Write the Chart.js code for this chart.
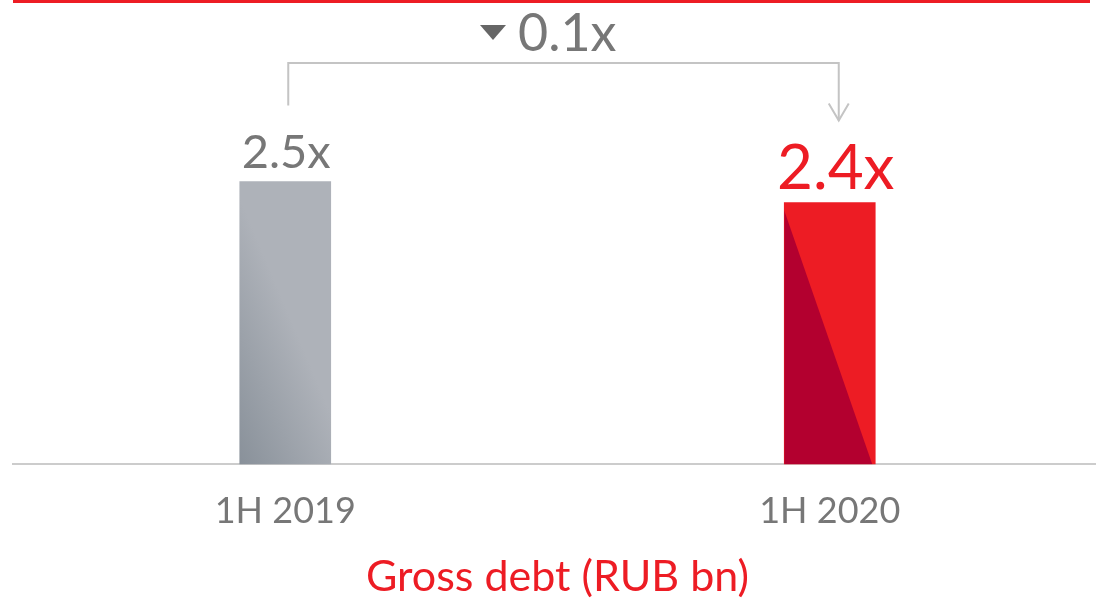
<!doctype html>
<html lang="en">
<head>
  <meta charset="utf-8">
  <title>Gross debt</title>
  <style>
    * { margin: 0; padding: 0; }
    body { width: 1096px; height: 601px; overflow: hidden; background: #fff; }
    .chartBox { width: 1102px; height: 601px; }
  </style>
</head>
<body>
  <div class="chartBox"><canvas id="myChart"></canvas></div>
  <script src="https://cdn.jsdelivr.net/npm/chart.js/dist/chart.umd.min.js"></script>
  <script>
    // data
    const periods = ['1H 2019', '1H 2020'];
    const leverage = [2.5, 2.4];
    const valueLabels = ['2.5x', '2.4x'];
    const changeLabel = '0.1x';
    const axisTitle = 'Gross debt (RUB bn)';

    const RED = '#ED1C24';
    const DARK_RED = '#B3002F';
    const GREY_TEXT = '#777777';
    const FONT = 'Lato, "Open Sans", sans-serif';

    function barColor(context) {
      const chart = context.chart;
      if (context.dataIndex === 1) return RED;
      if (!chart.chartArea) return '#adb1b8';
      const xs = chart.scales.x.getPixelForValue(context.dataIndex);
      const left = xs - 45;
      const bottom = chart.chartArea.bottom;
      const g = chart.ctx.createLinearGradient(left, bottom, left + 95, bottom - 40);
      g.addColorStop(0, '#89919a');
      g.addColorStop(1, '#aeb2b9');
      return g;
    }

    // dark wedge on the red bar, drawn over the bar element
    const wedge = {
      id: 'wedge',
      afterDatasetsDraw(chart) {
        const { ctx, chartArea } = chart;
        const el = chart.getDatasetMeta(0).data[1];
        const left = el.x - el.width / 2;
        const right = el.x + el.width / 2;
        const base = chartArea.bottom;
        ctx.save();
        ctx.beginPath();
        ctx.rect(left, el.y, el.width, base - el.y);
        ctx.clip();
        ctx.fillStyle = DARK_RED;
        ctx.beginPath();
        ctx.moveTo(left, el.y + 8);
        ctx.lineTo(right - 3, base);
        ctx.lineTo(left, base);
        ctx.closePath();
        ctx.fill();
        ctx.restore();
      }
    };

    const annotations = {
      id: 'annotations',
      afterDraw(chart) {
        const { ctx, chartArea } = chart;
        const bars = chart.getDatasetMeta(0).data;
        const a = bars[0], b = bars[1];
        ctx.save();

        // red rule on top
        ctx.fillStyle = RED;
        ctx.fillRect(chartArea.left, 0, 1077, 3);

        // value labels
        ctx.textAlign = 'center';
        ctx.textBaseline = 'alphabetic';
        ctx.fillStyle = GREY_TEXT;
        ctx.font = '47px ' + FONT;
        ctx.fillText(valueLabels[0], a.x + 1, a.y - 13);
        ctx.fillStyle = RED;
        ctx.font = '62px ' + FONT;
        ctx.fillText(valueLabels[1], b.x + 6, b.y - 14);

        // bracket with arrow
        const x1 = a.x + 3, x2 = b.x + 9;
        const yTop = 63;
        ctx.strokeStyle = '#c4c4c4';
        ctx.lineWidth = 2;
        ctx.beginPath();
        ctx.moveTo(x1, a.y - 76);
        ctx.lineTo(x1, yTop);
        ctx.lineTo(x2, yTop);
        ctx.lineTo(x2, b.y - 82);
        ctx.stroke();
        ctx.beginPath();
        ctx.moveTo(x2 - 10, b.y - 99);
        ctx.lineTo(x2, b.y - 82);
        ctx.lineTo(x2 + 10, b.y - 99);
        ctx.stroke();

        // change label
        const cx = 493;
        ctx.fillStyle = '#666666';
        ctx.beginPath();
        ctx.moveTo(cx - 13, 25);
        ctx.lineTo(cx + 13, 25);
        ctx.lineTo(cx, 40);
        ctx.closePath();
        ctx.fill();
        ctx.fillStyle = GREY_TEXT;
        ctx.font = '52px ' + FONT;
        ctx.textAlign = 'left';
        ctx.fillText(changeLabel, 518, 51);

        ctx.restore();
      }
    };

    const config = {
      type: 'bar',
      data: {
        labels: periods,
        datasets: [{
          data: leverage,
          backgroundColor: barColor,
          borderWidth: 0,
          barThickness: 91
        }]
      },
      options: {
        responsive: true,
        maintainAspectRatio: false,
        animation: false,
        layout: { padding: { left: 13, right: 0, top: 0, bottom: 0 } },
        plugins: {
          legend: { display: false },
          tooltip: { enabled: false }
        },
        scales: {
          x: {
            grid: { display: false },
            border: { color: '#cccccc', width: 2 },
            ticks: {
              color: GREY_TEXT,
              font: { family: FONT, size: 36 },
              padding: 18
            },
            title: {
              display: true,
              text: axisTitle,
              color: RED,
              font: { family: FONT, size: 43 },
              padding: { top: 0, bottom: -2 }
            }
          },
          y: {
            display: false,
            min: 1.16,
            max: 3.36
          }
        }
      },
      plugins: [wedge, annotations]
    };

    const myChart = new Chart(document.getElementById('myChart'), config);
  </script>
</body>
</html>
